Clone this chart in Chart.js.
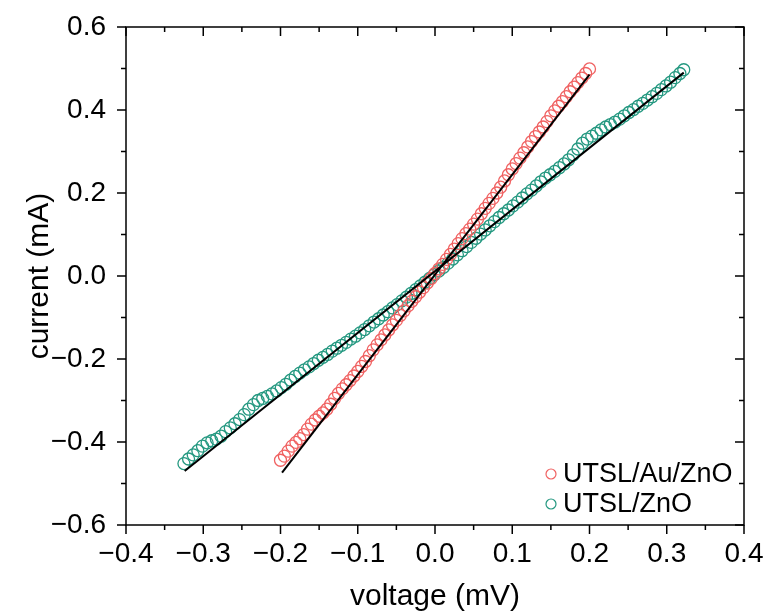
<!DOCTYPE html>
<html>
<head>
<meta charset="utf-8">
<title>I-V curves</title>
<script src="https://cdn.jsdelivr.net/npm/chart.js"></script>
<style>
  html, body { margin: 0; padding: 0; background: #fff; }
</style>
</head>
<body>
<canvas id="myChart" width="766" height="612"></canvas>
<script>
// UTSL/Au/ZnO measured points (voltage mV, current mA)
var voltageAu = [-0.200,-0.195,-0.190,-0.185,-0.180,-0.175,-0.170,-0.165,-0.160,-0.155,-0.150,-0.145,-0.140,-0.135,-0.130,-0.125,-0.120,-0.115,-0.110,-0.105,-0.100,-0.095,-0.090,-0.085,-0.080,-0.075,-0.070,-0.065,-0.060,-0.055,-0.050,-0.045,-0.040,-0.035,-0.030,-0.025,-0.020,-0.015,-0.010,-0.005,0.000,0.005,0.010,0.015,0.020,0.025,0.030,0.035,0.040,0.045,0.050,0.055,0.060,0.065,0.070,0.075,0.080,0.085,0.090,0.095,0.100,0.105,0.110,0.115,0.120,0.125,0.130,0.135,0.140,0.145,0.150,0.155,0.160,0.165,0.170,0.175,0.180,0.185,0.190,0.195,0.200];
var currentAu = [-0.444,-0.434,-0.422,-0.410,-0.401,-0.392,-0.382,-0.369,-0.357,-0.347,-0.338,-0.330,-0.321,-0.309,-0.295,-0.283,-0.272,-0.262,-0.252,-0.241,-0.230,-0.218,-0.206,-0.192,-0.178,-0.166,-0.154,-0.142,-0.130,-0.118,-0.107,-0.095,-0.084,-0.072,-0.061,-0.050,-0.039,-0.028,-0.017,-0.006,0.006,0.017,0.028,0.040,0.052,0.065,0.078,0.090,0.102,0.113,0.125,0.137,0.150,0.163,0.175,0.187,0.200,0.214,0.229,0.244,0.258,0.271,0.284,0.297,0.311,0.324,0.336,0.347,0.359,0.372,0.386,0.398,0.409,0.420,0.432,0.444,0.455,0.466,0.477,0.488,0.499];

// UTSL/ZnO measured points
var voltageZnO = [-0.325,-0.319,-0.313,-0.307,-0.301,-0.295,-0.289,-0.283,-0.277,-0.271,-0.265,-0.259,-0.253,-0.247,-0.241,-0.235,-0.229,-0.223,-0.217,-0.211,-0.205,-0.199,-0.193,-0.187,-0.181,-0.175,-0.169,-0.163,-0.157,-0.151,-0.145,-0.139,-0.133,-0.127,-0.121,-0.115,-0.109,-0.103,-0.097,-0.091,-0.085,-0.079,-0.073,-0.067,-0.061,-0.055,-0.049,-0.043,-0.037,-0.031,-0.025,-0.019,-0.013,-0.007,-0.001,0.005,0.011,0.017,0.023,0.029,0.035,0.041,0.047,0.053,0.059,0.065,0.071,0.077,0.083,0.089,0.095,0.101,0.107,0.113,0.119,0.125,0.131,0.137,0.143,0.149,0.155,0.161,0.167,0.173,0.179,0.185,0.191,0.197,0.203,0.209,0.215,0.221,0.227,0.233,0.239,0.245,0.251,0.257,0.263,0.269,0.275,0.281,0.287,0.293,0.299,0.305,0.311,0.317,0.322];
var currentZnO = [-0.452,-0.441,-0.431,-0.421,-0.410,-0.402,-0.397,-0.393,-0.386,-0.375,-0.366,-0.356,-0.346,-0.334,-0.321,-0.310,-0.300,-0.295,-0.290,-0.284,-0.277,-0.269,-0.261,-0.251,-0.242,-0.234,-0.226,-0.219,-0.211,-0.203,-0.196,-0.189,-0.181,-0.174,-0.167,-0.160,-0.152,-0.145,-0.137,-0.129,-0.120,-0.111,-0.103,-0.094,-0.086,-0.077,-0.069,-0.060,-0.051,-0.042,-0.033,-0.024,-0.015,-0.006,0.003,0.012,0.021,0.031,0.041,0.051,0.061,0.071,0.081,0.091,0.101,0.111,0.121,0.131,0.141,0.150,0.159,0.169,0.178,0.188,0.198,0.207,0.217,0.227,0.236,0.244,0.252,0.261,0.270,0.280,0.292,0.306,0.320,0.330,0.337,0.344,0.352,0.359,0.365,0.371,0.378,0.386,0.394,0.401,0.409,0.416,0.424,0.432,0.440,0.449,0.458,0.467,0.478,0.488,0.497];

// linear fits, end points
var fitAuV = [-0.198, 0.200];
var fitAuI = [-0.474, 0.485];
var fitZnOV = [-0.324, 0.322];
var fitZnOI = [-0.470, 0.490];

var seriesNames = ['UTSL/Au/ZnO', 'UTSL/ZnO'];
var seriesColors = ['rgb(240,98,98)', 'rgb(36,152,128)'];

var FONT = '"Liberation Sans", Arial, sans-serif';

function pts(xs, ys) {
  return xs.map(function(x, i) { return { x: x, y: ys[i] }; });
}
function isMajor(v) {
  return Math.abs(v * 10 - Math.round(v * 10)) < 1e-6;
}
function fmt(v) {
  if (Math.abs(v) < 1e-9) v = 0;
  return v.toFixed(1).replace('-', '\u2212');
}

// box frame with Origin style ticks (out on left/bottom, in on top/right)
var frameTicks = {
  id: 'frameTicks',
  afterDraw: function(chart) {
    var ctx = chart.ctx, a = chart.chartArea;
    var xs = chart.scales.x, ys = chart.scales.y;
    ctx.save();
    ctx.strokeStyle = '#000';
    ctx.lineWidth = 1.5;
    ctx.strokeRect(a.left, a.top, a.right - a.left, a.bottom - a.top);
    ctx.beginPath();
    xs.ticks.forEach(function(t) {
      var px = xs.getPixelForValue(t.value);
      var len = isMajor(t.value) ? 9 : 5;
      ctx.moveTo(px, a.bottom); ctx.lineTo(px, a.bottom + len);
      ctx.moveTo(px, a.top); ctx.lineTo(px, a.top + len);
    });
    ys.ticks.forEach(function(t) {
      var py = ys.getPixelForValue(t.value);
      var len = isMajor(t.value / 2) ? 9 : 5;
      ctx.moveTo(a.left, py); ctx.lineTo(a.left - len, py);
      ctx.moveTo(a.right, py); ctx.lineTo(a.right - len, py);
    });
    ctx.stroke();
    ctx.restore();
  }
};

var legendBox = {
  id: 'legendBox',
  afterDraw: function(chart) {
    var ctx = chart.ctx, a = chart.chartArea;
    ctx.save();
    ctx.font = '27px ' + FONT;
    ctx.textBaseline = 'middle';
    seriesNames.forEach(function(name, i) {
      var y = a.bottom - 51 + i * 30;
      var cx = a.left + 425;
      ctx.beginPath();
      ctx.arc(cx, y, 5, 0, 2 * Math.PI);
      ctx.strokeStyle = seriesColors[i];
      ctx.lineWidth = 1.2;
      ctx.stroke();
      ctx.fillStyle = '#000';
      ctx.fillText(name, cx + 12, y + 1);
    });
    ctx.restore();
  }
};

var ctx = document.getElementById('myChart').getContext('2d');
new Chart(ctx, {
  type: 'scatter',
  data: {
    datasets: [
      {
        label: 'fit Au', type: 'line', data: pts(fitAuV, fitAuI),
        borderColor: '#000', borderWidth: 2, pointRadius: 0, fill: false, order: 0
      },
      {
        label: 'fit ZnO', type: 'line', data: pts(fitZnOV, fitZnOI),
        borderColor: '#000', borderWidth: 2, pointRadius: 0, fill: false, order: 0
      },
      {
        label: seriesNames[0], data: pts(voltageAu, currentAu),
        borderColor: seriesColors[0], backgroundColor: 'rgba(0,0,0,0)',
        pointRadius: 6, borderWidth: 1.3, order: 1
      },
      {
        label: seriesNames[1], data: pts(voltageZnO, currentZnO),
        borderColor: seriesColors[1], backgroundColor: 'rgba(0,0,0,0)',
        pointRadius: 6, borderWidth: 1.3, order: 2
      }
    ]
  },
  options: {
    responsive: false,
    animation: false,
    layout: { padding: { top: 27, right: 22, left: 0, bottom: 0 } },
    plugins: {
      legend: { display: false },
      tooltip: { enabled: false }
    },
    scales: {
      x: {
        type: 'linear', min: -0.4, max: 0.4,
        grid: { display: false, drawTicks: false },
        border: { display: false },
        ticks: {
          stepSize: 0.05, autoSkip: false, maxRotation: 0, padding: 12,
          color: '#000', font: { family: FONT, size: 28 },
          callback: function(v) { return isMajor(v) ? fmt(v) : ''; }
        },
        title: {
          display: true, text: 'voltage (mV)', color: '#000',
          font: { family: FONT, size: 30, lineHeight: 1 },
          padding: { top: 0, bottom: 0 }
        },
        afterFit: function(s) {
          s.height = 87;
          s.paddingLeft = 0; s.paddingRight = 0;
        }
      },
      y: {
        type: 'linear', min: -0.6, max: 0.6,
        grid: { display: false, drawTicks: false },
        border: { display: false },
        ticks: {
          stepSize: 0.1, autoSkip: false, padding: 20,
          color: '#000', font: { family: FONT, size: 28 },
          callback: function(v) { return isMajor(v / 2) ? fmt(v) : ''; }
        },
        title: {
          display: true, text: 'current (mA)', color: '#000',
          font: { family: FONT, size: 30, lineHeight: 1 },
          padding: { top: 25, bottom: 0 }
        },
        afterFit: function(s) {
          s.width = 126;
          s.paddingTop = 0; s.paddingBottom = 0;
        }
      }
    }
  },
  plugins: [frameTicks, legendBox]
});
</script>
</body>
</html>
